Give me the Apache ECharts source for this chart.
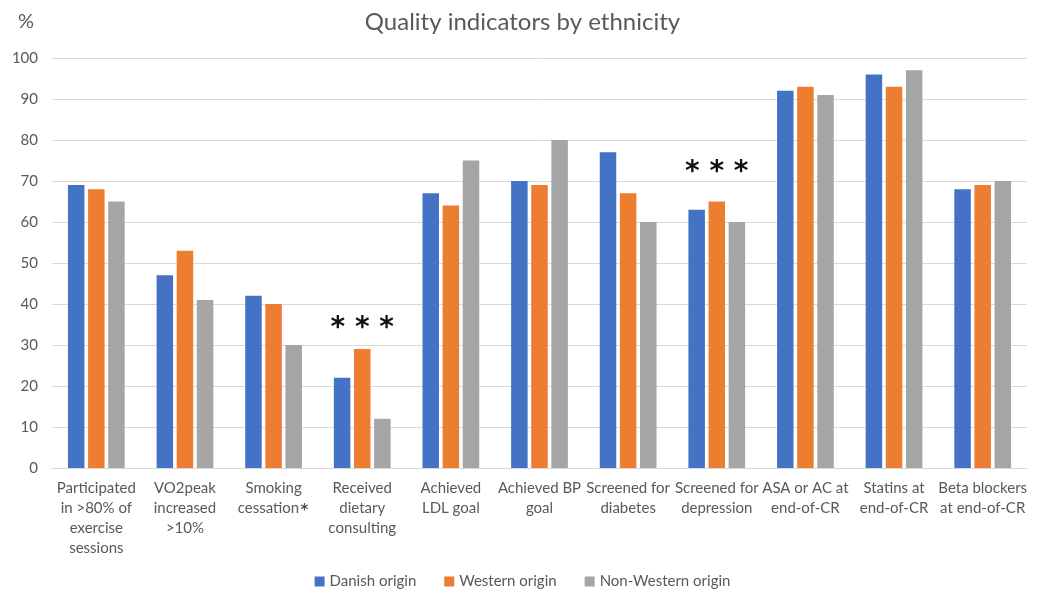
<!DOCTYPE html>
<html>
<head>
    <meta charset="utf-8">
    <title>Quality indicators by ethnicity</title>
    <script src="https://cdn.jsdelivr.net/npm/echarts@6/dist/echarts.min.js"></script>
</head>
<body style="margin:0">
<div id="main" style="width:1045px;height:596px;"></div>
<script type="text/javascript">
    var categories = [
        'Participated\nin >80% of\nexercise\nsessions',
        'VO2peak\nincreased\n>10%',
        'Smoking\ncessation{s|*}',
        'Received\ndietary\nconsulting',
        'Achieved\nLDL goal',
        'Achieved BP\ngoal',
        'Screened for\ndiabetes',
        'Screened for\ndepression',
        'ASA or AC at\nend-of-CR',
        'Statins at\nend-of-CR',
        'Beta blockers\nat end-of-CR'
    ];
    var danish = [69, 47, 42, 22, 67, 70, 77, 63, 92, 96, 68];
    var western = [68, 53, 40, 29, 64, 69, 67, 65, 93, 93, 69];
    var nonWestern = [65, 41, 30, 12, 75, 80, 60, 60, 91, 97, 70];
    // significance marks: [category index, height in %]
    var stars = [[3, 34], [7, 72]];

    var txt = '#595959';
    var font = 'Lato';

    var myChart = echarts.init(document.getElementById('main'));

    function bar(name, data, color, extra) {
        var s = {
            name: name,
            type: 'bar',
            data: data,
            barGap: '22%',
            barCategoryGap: '36%',
            itemStyle: {color: color}
        };
        if (extra) s.markPoint = extra;
        return s;
    }

    myChart.setOption({
        textStyle: {fontFamily: font},
        title: {
            text: 'Quality indicators by ethnicity',
            left: 'center',
            top: 5,
            textStyle: {fontSize: 24, fontWeight: 'normal', color: txt, fontFamily: font}
        },
        legend: {
            bottom: 2,
            left: 'center',
            icon: 'rect',
            itemWidth: 10,
            itemHeight: 10,
            itemGap: 28,
            textStyle: {fontSize: 15, color: txt}
        },
        grid: {left: 52, right: 18, top: 58, bottom: 128},
        xAxis: {
            type: 'category',
            data: categories,
            axisTick: {show: false},
            axisLine: {lineStyle: {color: '#d9d9d9'}},
            axisLabel: {
                interval: 0,
                color: txt,
                fontSize: 15,
                lineHeight: 20,
                margin: 10,
                rich: {s: {fontSize: 24, color: '#404040', lineHeight: 20, padding: [8, 0, 0, 0]}}
            }
        },
        yAxis: {
            type: 'value',
            min: 0,
            max: 100,
            interval: 10,
            name: '%',
            nameGap: 26,
            nameTextStyle: {fontSize: 20, color: txt, align: 'right', padding: [0, 18, 0, 0]},
            axisLabel: {color: txt, fontSize: 15, margin: 14},
            splitLine: {lineStyle: {color: '#d9d9d9'}}
        },
        series: [
            bar('Danish origin', danish, '#4472c4'),
            bar('Western origin', western, '#ed7d31', {
                symbol: 'circle',
                symbolSize: 1,
                itemStyle: {color: 'rgba(0,0,0,0)'},
                silent: true,
                label: {show: true, position: 'inside', formatter: '* * *', fontSize: 28, fontWeight: 'bold', color: '#111', fontFamily: 'DejaVu Sans'},
                data: stars.map(function (p) { return {coord: p}; })
            }),
            bar('Non-Western origin', nonWestern, '#a5a5a5')
        ]
    });
</script>
</body>
</html>
